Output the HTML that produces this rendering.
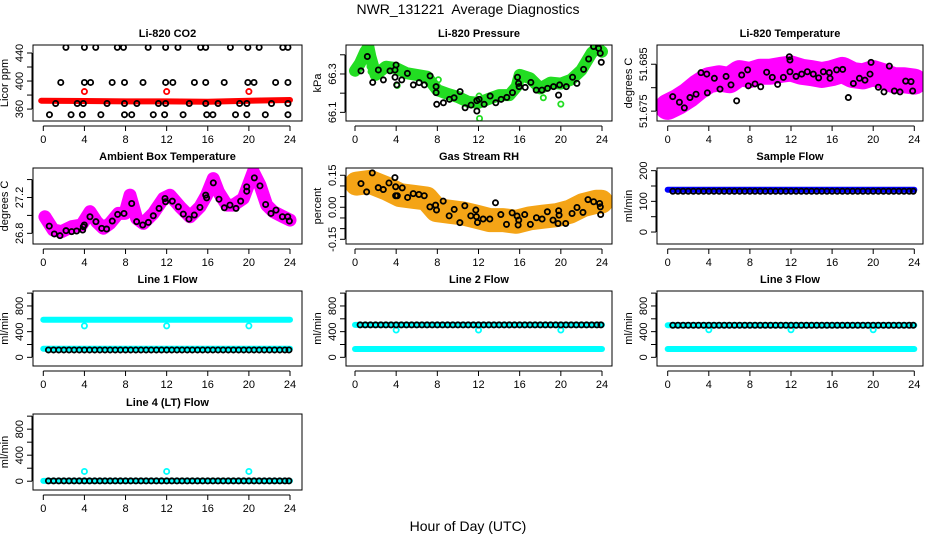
<!DOCTYPE html>
<html><head><meta charset="utf-8"><style>
html,body{margin:0;padding:0;background:#fff;}
svg{display:block;font-family:"Liberation Sans",sans-serif;}
</style></head><body>
<svg id="chart" width="936" height="540" viewBox="0 0 936 540" xmlns="http://www.w3.org/2000/svg">
<rect width="936" height="540" fill="#fff"/>
<text x="468" y="14" text-anchor="middle" font-size="14" style="white-space:pre">NWR_131221  Average Diagnostics</text>
<text x="468" y="531" text-anchor="middle" font-size="14">Hour of Day (UTC)</text>
</svg>
<script>
// ---------- data ----------
const xTicks = [0,4,8,12,16,20,24];
// CO2
const co2BlackHours = [2.2,4.0,5.1,7.2,7.8,10.2,11.9,13.1,15.3,15.8,18.2,19.9,21.0,23.3,23.8, 1.7,4.0,4.6,6.7,7.9,9.7,11.9,12.6,14.7,15.8,17.6,19.9,20.5,22.6,23.8, 1.2,3.3,3.9,6.2,7.9,9.1,11.2,11.9,14.2,15.8,17.0,19.1,19.8,22.2,23.8, 0.6,2.7,3.8,5.6,7.9,8.6,10.7,11.8,13.6,15.9,16.5,18.7,19.8,21.6,23.8];
const co2BlackVals = [448,448,448,448,448,448,448,448,448,448,448,448,448,448,448, 398,398,398,398,398,398,398,398,398,398,398,398,398,398,398, 368,368,368,368,368,368,368,368,368,368,368,368,368,368,368, 352,352,352,352,352,352,352,352,352,352,352,352,352,352,352];
const co2RedHours = [-0.2,4,8,12,16,20,24];
const co2RedVals = [372,371.5,371,371,370.5,372,373];
const co2RedSpikeHours = [4,12,20];
const co2RedSpikeVals = [385,385,385];
// Pressure
const presBandHours = [0,0.5,1.0,1.3,1.5,2,3,4,5,6,7,8,9,10,11,12,13,14,15,15.7,16,17,18,19,20,21,22,23,23.5,24];
const presBandVals = [66.317,66.356,66.416,66.44,66.39,66.295,66.338,66.33,66.304,66.295,66.286,66.216,66.196,66.18,66.155,66.15,66.17,66.19,66.19,66.234,66.295,66.278,66.225,66.255,66.25,66.27,66.32,66.41,66.435,66.416];
const presGreenHours = [1.46,1.56,4.1,8.1,12.06,12.1,18.3,20.0];
const presGreenVals = [66.338,66.312,66.24,66.27,66.185,66.068,66.176,66.143];
const presBlackHours = [0.58,1.20,1.72,2.27,2.76,3.40,3.89,3.99,3.89,4.05,4.54,5.09,5.67,6.23,6.74,7.30,7.88,7.88,7.94,8.59,9.18,9.63,10.21,10.70,11.28,11.84,11.84,12.06,12.55,13.13,13.68,14.20,14.75,15.30,15.79,15.89,15.95,16.54,17.09,17.61,18.16,18.71,19.29,19.78,19.88,20.53,21.14,21.56,22.21,22.70,23.18,23.67,23.83,23.93];
const presBlackVals = [66.316,66.391,66.256,66.321,66.269,66.316,66.321,66.347,66.283,66.243,66.269,66.303,66.243,66.255,66.243,66.290,66.234,66.203,66.142,66.150,66.168,66.176,66.208,66.124,66.138,66.161,66.107,66.168,66.142,66.185,66.150,66.168,66.178,66.203,66.283,66.251,66.234,66.230,66.256,66.216,66.216,66.225,66.234,66.190,66.243,66.234,66.283,66.251,66.324,66.378,66.443,66.434,66.408,66.361];
// Li-820 temperature
const ltBandHours = [0,1,2,3,4,5,6,7,8,9,10,11,12,13,14,15,16,17,18,19,20,21,22,23,24];
const ltBandVals = [51.6759,51.677,51.6784,51.6802,51.6816,51.682,51.6816,51.6831,51.6827,51.6834,51.6834,51.6838,51.6841,51.6834,51.6831,51.6827,51.6831,51.6838,51.6827,51.6824,51.6831,51.6824,51.6816,51.6816,51.6813];
const ltBlackHours = [0.49,1.14,1.62,2.17,2.76,3.24,3.80,3.86,4.54,5.09,5.68,6.16,6.71,7.20,7.78,7.85,8.50,9.05,9.63,10.18,10.70,11.26,11.84,11.90,11.90,12.49,13.04,13.59,14.17,14.69,15.15,15.73,15.80,16.44,17.03,17.58,18.07,18.66,19.20,19.69,19.79,21.57,20.50,21.05,22.06,22.61,23.16,23.68,23.84];
const ltBlackVals = [51.6781,51.6769,51.6757,51.6779,51.6786,51.6832,51.6829,51.6789,51.6820,51.6797,51.6824,51.6806,51.6772,51.6827,51.6838,51.6804,51.6808,51.6802,51.6833,51.6822,51.6807,51.6822,51.6866,51.6859,51.6834,51.6824,51.6829,51.6834,51.6829,51.6821,51.6834,51.6832,51.6820,51.6838,51.6839,51.6779,51.6809,51.6820,51.6816,51.6829,51.6854,51.6846,51.6801,51.6791,51.6793,51.6791,51.6814,51.6813,51.6793];
// Ambient box temperature
const abBandHours = [0.16,0.97,1.78,2.76,3.73,4.54,5.19,5.84,6.49,7.30,7.95,8.43,9.08,9.73,10.70,11.68,12.33,13.30,14.27,15.24,15.89,16.54,17.03,17.84,18.49,19.46,20.43,21.08,21.73,22.38,23.35,24.0];
const abBandVals = [26.985,26.837,26.819,26.874,26.893,27.041,26.930,26.856,26.911,27.022,27.022,27.226,26.967,26.911,27.022,27.189,27.226,27.096,26.985,27.096,27.226,27.411,27.263,27.115,27.115,27.189,27.485,27.337,27.115,27.041,26.985,26.948];
const abBlackHours = [0.58,1.07,1.62,2.21,2.76,3.24,3.83,3.89,3.99,4.54,5.12,5.68,6.16,6.71,7.23,7.85,8.60,9.08,9.67,10.22,10.70,11.26,11.84,11.90,12.55,13.14,13.62,14.17,14.69,15.24,15.80,15.89,16.54,17.09,17.61,18.16,18.75,19.20,19.79,19.79,20.53,21.08,21.63,22.15,22.64,23.26,23.78,23.94];
const abBlackVals = [26.881,26.793,26.774,26.830,26.819,26.826,26.837,26.874,26.893,26.985,26.930,26.856,26.848,26.937,27.011,27.022,27.133,26.930,26.893,26.922,26.996,27.078,27.189,27.152,27.159,27.096,27.015,26.959,27.004,27.089,27.226,27.196,27.363,27.181,27.085,27.115,27.078,27.159,27.319,27.270,27.419,27.330,27.122,27.022,27.059,26.985,26.985,26.937];
// Gas stream RH
const rhBandHours = [0.16,1.46,3.07,4.37,5.66,6.95,7.92,9.22,10.51,11.80,13.10,14.39,15.69,16.98,18.27,19.57,20.86,22.15,23.45,23.93];
const rhBandVals = [0.111,0.119,0.088,0.057,0.049,0.041,-0.013,-0.021,-0.029,-0.044,-0.060,-0.060,-0.068,-0.052,-0.044,-0.037,-0.021,0.010,0.026,0.026];
const rhBlackHours = [0.58,1.13,1.68,2.26,2.75,3.30,3.88,3.95,3.95,4.11,4.59,5.11,5.66,6.21,6.73,7.28,7.83,7.92,8.57,9.15,9.64,10.19,10.67,11.25,11.74,11.80,11.90,12.45,13.10,13.65,14.17,14.72,15.27,15.75,15.85,15.91,16.49,17.04,17.63,18.18,18.69,19.24,19.79,19.83,19.73,20.47,21.09,21.57,22.15,22.64,23.19,23.77,23.84,23.87];
const rhBlackVals = [0.111,0.072,0.161,0.092,0.083,0.114,0.139,0.096,0.054,0.054,0.091,0.046,0.064,0.060,0.054,0.002,0.010,-0.013,0.029,-0.040,-0.010,-0.072,0.007,-0.040,-0.013,-0.044,-0.071,-0.055,-0.055,0.021,-0.034,-0.080,-0.026,-0.041,-0.083,-0.060,-0.034,-0.080,-0.049,-0.055,-0.021,-0.060,-0.016,-0.037,-0.076,-0.076,-0.029,-0.001,-0.024,0.036,0.026,0.018,0.002,-0.034];
// Flows
const flowHours = [0.5,1,1.5,2,2.5,3,3.5,4,4.5,5,5.5,6,6.5,7,7.5,8,8.5,9,9.5,10,10.5,11,11.5,12,12.5,13,13.5,14,14.5,15,15.5,16,16.5,17,17.5,18,18.5,19,19.5,20,20.5,21,21.5,22,22.5,23,23.5,23.9];
const sampleBlack = [133,133,133,133,133,133,133,133,133,133,133,133,133,133,133,133,133,133,133,133,133,133,133,133,133,133,133,133,133,133,133,133,133,133,133,133,133,133,133,133,133,133,133,133,133,133,133,133];
const sampleBlueHours = [0,24];
const sampleBlueVals = [138,138];
const line1Black = [115,115,115,115,115,115,115,115,115,115,115,115,115,115,115,115,115,115,115,115,115,115,115,115,115,115,115,115,115,115,115,115,115,115,115,115,115,115,115,115,115,115,115,115,115,115,115,115];
const line1CyanHighHours = [0,24]; const line1CyanHighVals = [585,585];
const line1CyanLowHours = [0,24]; const line1CyanLowVals = [135,135];
const line1CyanDipHours = [4,12,20]; const line1CyanDipVals = [490,490,490];
const line2Black = [505,505,505,505,505,505,505,505,505,505,505,505,505,505,505,505,505,505,505,505,505,505,505,505,505,505,505,505,505,505,505,505,505,505,505,505,505,505,505,505,505,505,505,505,505,505,505,505];
const line2CyanHighHours = [0,24]; const line2CyanHighVals = [505,505];
const line2CyanLowHours = [0,24]; const line2CyanLowVals = [130,130];
const line2CyanDipHours = [4,12,20]; const line2CyanDipVals = [425,425,425];
const line3Black = [500,500,500,500,500,500,500,500,500,500,500,500,500,500,500,500,500,500,500,500,500,500,500,500,500,500,500,500,500,500,500,500,500,500,500,500,500,500,500,500,500,500,500,500,500,500,500,500];
const line3CyanHighHours = [0,24]; const line3CyanHighVals = [500,500];
const line3CyanLowHours = [0,24]; const line3CyanLowVals = [130,130];
const line3CyanDipHours = [4,12,20]; const line3CyanDipVals = [430,430,430];
const line4Black = [5,5,5,5,5,5,5,5,5,5,5,5,5,5,5,5,5,5,5,5,5,5,5,5,5,5,5,5,5,5,5,5,5,5,5,5,5,5,5,5,5,5,5,5,5,5,5,5];
const line4CyanHours = [0,24]; const line4CyanVals = [5,5];
const line4CyanDipHours = [4,12,20]; const line4CyanDipVals = [150,150,150];

// ---------- drawing ----------
const NS = "http://www.w3.org/2000/svg";
const svg = document.getElementById('chart');
const COLS = [{l:33,r:302,x0:43.3,x24:290},{l:346,r:612,x0:355,x24:602},{l:657,r:923,x0:667.7,x24:914.3}];
const ROWS = [{t:45,b:121},{t:168,b:244},{t:291,b:366},{t:414,b:490}];
function mk(tag, attrs, parent){const e=document.createElementNS(NS,tag);for(const k in attrs)e.setAttribute(k,attrs[k]);(parent||svg).appendChild(e);return e;}

function panel(cfg){
  const c=COLS[cfg.col], r=ROWS[cfg.row];
  const g=mk('g',{});
  
  
  const xs=h=>c.x0+(c.x24-c.x0)*h/24;
  const ys=v=>r.b-(v-cfg.ymin)/(cfg.ymax-cfg.ymin)*(r.b-r.t);
  const p={g,xs,ys};
  const clip=mk('clipPath',{id:'clip'+cfg.name},g);
  mk('rect',{x:c.l,y:r.t,width:c.r-c.l,height:r.b-r.t},clip);
  p.plot=mk('g',{'clip-path':'url(#clip'+cfg.name+')'},g);
  
  
  const box=mk('rect',{x:c.l,y:r.t,width:c.r-c.l,height:r.b-r.t,fill:'none',stroke:'#000','stroke-width':1},g);
  
  
  const t=mk('text',{x:(c.l+c.r)/2,y:r.t-8,'text-anchor':'middle','font-size':11,'font-weight':'bold'},g);
  t.textContent=cfg.title;
  
  
  const xa=mk('g',{},g);
  
  
  mk('line',{x1:xs(xTicks[0]),x2:xs(xTicks[xTicks.length-1]),y1:r.b+5,y2:r.b+5,stroke:'#000'},xa);
  xTicks.forEach(h=>{
    mk('line',{x1:xs(h),x2:xs(h),y1:r.b+5,y2:r.b+10,stroke:'#000'},xa);
    const tx=mk('text',{x:xs(h),y:r.b+22,'text-anchor':'middle','font-size':11},xa);
    tx.textContent=h;
    
    
  });
  const ya=mk('g',{},g);
  
  
  const ax=c.l;
  mk('line',{x1:ax-1,x2:ax-1,y1:ys(cfg.ticks[0]),y2:ys(cfg.ticks[cfg.ticks.length-1]),stroke:'#000'},ya);
  cfg.ticks.forEach((v,i)=>{
    mk('line',{x1:ax-6,x2:ax-1,y1:ys(v),y2:ys(v),stroke:'#000'},ya);
    if(cfg.labels[i]!==''){
      const lx=ax-10, ly=ys(v);
      const tx=mk('text',{x:lx,y:ly,'text-anchor':'middle','font-size':11,transform:`rotate(-90 ${lx} ${ly})`},ya);
      tx.textContent=cfg.labels[i];
      
      
    }
  });
  const yl=mk('text',{x:c.l-25,y:(r.t+r.b)/2,'text-anchor':'middle','font-size':11,transform:`rotate(-90 ${c.l-25} ${(r.t+r.b)/2})`},ya);
  yl.textContent=cfg.ylab;
  
  
  return p;
}
function band(p,hours,vals,color,w,name){
  const pts=hours.map((h,i)=>p.xs(h).toFixed(1)+','+p.ys(vals[i]).toFixed(1)).join(' ');
  const pl=mk('polyline',{points:pts,fill:'none',stroke:color,'stroke-width':w,'stroke-linejoin':'round','stroke-linecap':'round'},p.plot);
  
  
}
function pts(p,hours,vals,color,name,sw){
  const g=mk('g',{},p.plot);
  
  
  hours.forEach((h,i)=>{
    const c=mk('circle',{cx:p.xs(h),cy:p.ys(vals[i]),r:2.6,fill:'none',stroke:color,'stroke-width':sw||1.8},g);
    
    
  });
}

let p=panel({name:'co2-panel',col:0,row:0,title:'Li-820 CO2',ylab:'Licor ppm',ymin:343,ymax:451.4,ticks:[360,380,400,420,440],labels:['360','','400','','440']});
band(p,co2RedHours,co2RedVals,'#ff0000',6,'co2-red-series');
pts(p,co2RedSpikeHours,co2RedSpikeVals,'#ff0000','co2-red-outliers');
pts(p,co2BlackHours,co2BlackVals,'#000','co2-black-series');

p=panel({name:'pressure-panel',col:1,row:0,title:'Li-820 Pressure',ylab:'kPa',ymin:66.055,ymax:66.451,ticks:[66.1,66.2,66.3,66.4],labels:['66.1','','66.3','']});
band(p,presBandHours,presBandVals,'#22dd22',12,'pressure-green-series');
pts(p,presGreenHours,presGreenVals,'#22dd22','pressure-green-outliers');
pts(p,presBlackHours,presBlackVals,'#000','pressure-black-series');

p=panel({name:'licor-temp-panel',col:2,row:0,title:'Li-820 Temperature',ylab:'degrees C',ymin:51.6729,ymax:51.6891,ticks:[51.675,51.68,51.685],labels:['51.675','','51.685']});
band(p,ltBandHours,ltBandVals,'#ff00ff',26,'licor-temp-magenta-series');
pts(p,ltBlackHours,ltBlackVals,'#000','licor-temp-black-series');

p=panel({name:'ambient-temp-panel',col:0,row:1,title:'Ambient Box Temperature',ylab:'degrees C',ymin:26.681,ymax:27.529,ticks:[26.8,27.0,27.2,27.4],labels:['26.8','','27.2','']});
band(p,abBandHours,abBandVals,'#ff00ff',13,'ambient-magenta-series');
pts(p,abBlackHours,abBlackVals,'#000','ambient-black-series');

p=panel({name:'rh-panel',col:1,row:1,title:'Gas Stream RH',ylab:'percent',ymin:-0.172,ymax:0.184,ticks:[-0.15,-0.10,-0.05,0,0.05,0.10,0.15],labels:['-0.15','','','0.00','','','0.15']});
band(p,rhBandHours,rhBandVals,'#f4a416',24,'rh-orange-series');
pts(p,rhBlackHours,rhBlackVals,'#000','rh-black-series');

p=panel({name:'sample-flow-panel',col:2,row:1,title:'Sample Flow',ylab:'ml/min',ymin:-39,ymax:208.7,ticks:[0,50,100,150,200],labels:['0','','100','','200']});
band(p,sampleBlueHours,sampleBlueVals,'#0000ff',6,'sample-blue-series');
pts(p,flowHours,sampleBlack,'#000','sample-black-series');

const flowTicks=[0,200,400,600,800,1000], flowLabels=['0','','400','','800',''];
p=panel({name:'line1-flow-panel',col:0,row:2,title:'Line 1 Flow',ylab:'ml/min',ymin:-135,ymax:1033,ticks:flowTicks,labels:flowLabels});
band(p,line1CyanHighHours,line1CyanHighVals,'#00ffff',6,'line1-cyan-high');
band(p,line1CyanLowHours,line1CyanLowVals,'#00ffff',6,'line1-cyan-low');
pts(p,line1CyanDipHours,line1CyanDipVals,'#00ffff','line1-cyan-outliers');
pts(p,flowHours,line1Black,'#000','line1-black-series');
p=panel({name:'line2-flow-panel',col:1,row:2,title:'Line 2 Flow',ylab:'ml/min',ymin:-135,ymax:1033,ticks:flowTicks,labels:flowLabels});
band(p,line2CyanHighHours,line2CyanHighVals,'#00ffff',6,'line2-cyan-high');
band(p,line2CyanLowHours,line2CyanLowVals,'#00ffff',6,'line2-cyan-low');
pts(p,line2CyanDipHours,line2CyanDipVals,'#00ffff','line2-cyan-outliers');
pts(p,flowHours,line2Black,'#000','line2-black-series');
p=panel({name:'line3-flow-panel',col:2,row:2,title:'Line 3 Flow',ylab:'ml/min',ymin:-135,ymax:1033,ticks:flowTicks,labels:flowLabels});
band(p,line3CyanHighHours,line3CyanHighVals,'#00ffff',6,'line3-cyan-high');
band(p,line3CyanLowHours,line3CyanLowVals,'#00ffff',6,'line3-cyan-low');
pts(p,line3CyanDipHours,line3CyanDipVals,'#00ffff','line3-cyan-outliers');
pts(p,flowHours,line3Black,'#000','line3-black-series');
p=panel({name:'line4-flow-panel',col:0,row:3,title:'Line 4 (LT) Flow',ylab:'ml/min',ymin:-135,ymax:1033,ticks:flowTicks,labels:flowLabels});
band(p,line4CyanHours,line4CyanVals,'#00ffff',6,'line4-cyan-series');
pts(p,line4CyanDipHours,line4CyanDipVals,'#00ffff','line4-cyan-outliers');
pts(p,flowHours,line4Black,'#000','line4-black-series');
</script>
</body></html>
